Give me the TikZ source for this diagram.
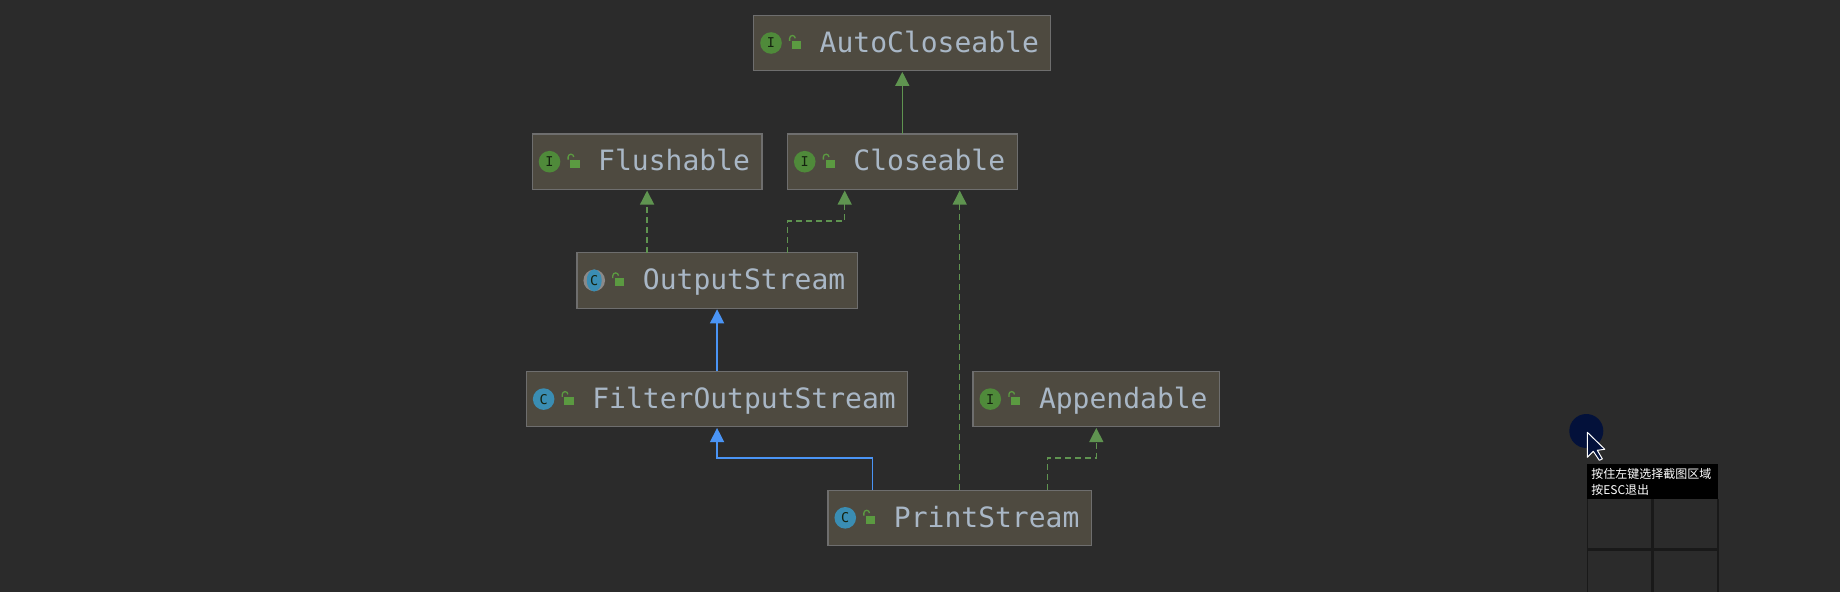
\documentclass[tikz,border=0pt]{standalone}
\usepackage{fontspec}
\setmonofont{DejaVu Sans Mono}
\newfontfamily\cjk{Noto Sans CJK SC}
\usepackage{tikz}
\usetikzlibrary{shapes.geometric, arrows.meta, positioning}

\definecolor{canvas}{HTML}{2B2B2B}
\definecolor{boxfill}{HTML}{4E4A40}
\definecolor{boxline}{HTML}{6E6E6E}
\definecolor{boxtext}{HTML}{A9B7C6}
\definecolor{implgreen}{HTML}{5F9450}
\definecolor{extblue}{HTML}{4A94F5}
\definecolor{ifacegreen}{HTML}{4F8A3A}
\definecolor{classblue}{HTML}{3A8DB3}
\definecolor{halogray}{HTML}{8A8A8A}
\definecolor{lockgreen}{HTML}{5B9A41}
\definecolor{spotblue}{HTML}{03113A}
\definecolor{gridline}{HTML}{191919}

\begin{document}
\begin{tikzpicture}[
    x=1bp, y=1bp,
    cls/.style={rectangle, draw=boxline, fill=boxfill, line width=1.2bp,
                outer sep=0bp, inner xsep=12bp, inner ysep=0bp,
                minimum height=55.4bp, text=boxtext,
                text height=24.5bp, text depth=6bp,
                font=\ttfamily\fontsize{28bp}{28bp}\selectfont,
                execute at begin node={\hspace*{54bp}}},
    icon/.style={circle, inner sep=0bp, outer sep=0bp, minimum size=21.6bp,
                 text=black!75!ifacegreen,
                 font=\ttfamily\fontsize{13.5bp}{13.5bp}\selectfont},
    lockbody/.style={rectangle, fill=lockgreen, inner sep=0bp, outer sep=0bp,
                     minimum width=9.3bp, minimum height=8bp},
    lockarc/.style={draw=lockgreen, line width=1.3bp},
    arr/.style={-{Triangle[length=14bp, width=14bp]}, line width=1.3bp, shorten >=1.2bp},
    impl/.style={arr, draw=implgreen},
    dep/.style={impl, dash pattern=on 6bp off 4bp},
    ext/.style={arr, draw=extblue},
    hint/.style={rectangle, fill=black, text=white, inner sep=4bp, outer sep=0bp,
                 minimum width=130.4bp, minimum height=35.3bp, text width=122.4bp,
                 align=left, font=\cjk\fontsize{12bp}{16bp}\selectfont},
    grid/.style={draw=gridline, line width=1.6bp}
  ]

  \useasboundingbox (0,0) rectangle (1840,-591.5);
  \fill[canvas] (-1,1) rectangle (1841,-593);

  \node[cls] (auto) at (902.3,-43) {AutoCloseable};
  \node[cls, below=63.3bp of auto] (close) {Closeable};
  \node[cls, left=25.5bp of close] (flush) {Flushable};
  \node[cls, below=63.3bp of flush, xshift=70bp] (output) {OutputStream};
  \node[cls, below=63.3bp of output] (filter) {FilterOutputStream};
  \node[cls, right=65.2bp of filter] (append) {Appendable};
  \node[cls, below=63.3bp of filter, xshift=242.6bp] (print) {PrintStream};

  \foreach \nm/\ltr/\col in {auto/I/ifacegreen, close/I/ifacegreen, flush/I/ifacegreen,
                             output//halogray, filter/C/classblue,
                             append/I/ifacegreen, print/C/classblue} {
    \node[icon, fill=\col, right=6.5bp of \nm.west] (\nm-icon) {\ltr};
    \node[lockbody, right=10bp of \nm-icon, yshift=-1.8bp] (\nm-lock) {};
    \draw[lockarc] ([xshift=-2.2bp]\nm-lock.north west) -- ++(0,2.5)
      arc[start angle=180, end angle=0, radius=2.8];
  }
  \node[icon, ellipse, minimum width=15bp, minimum height=22bp, fill=classblue]
    at (output-icon) {C};

  \draw[impl] (close.north) -- (auto.south);
  \draw[dep] (output.north -| flush.south) -- (flush.south);
  \draw[dep] ([xshift=70.7bp]output.north) -- ++(0,31.7) -| ([xshift=-57.6bp]close.south);
  \draw[dep] (print.north) -- (print.north |- close.south);
  \draw[ext] (filter.north) -- (output.south);
  \draw[ext] ([xshift=-87.4bp]print.north) -- ++(0,32) -| (filter.south);
  \draw[dep] ([xshift=87.5bp]print.north) -- ++(0,32) -| (append.south);

  % screenshot overlay
  \node[circle, fill=spotblue, minimum size=34bp, inner sep=0bp] (spot) at (1586.3,-431) {};
  \coordinate (tip) at (1587.3,-432.3);
  \draw[white, fill=spotblue, line width=1bp, line join=round] (tip) -- ++(0,-25) -- ++(6,6)
    -- ++(6,-9) -- ++(3,1.5) -- ++(-5,8.5) -- ++(7.5,1) -- cycle;

  \node[hint] (tool) at (1652.5,-481.7) {按住左键选择截图区域\\按ESC退出};
  \coordinate (bottom) at (0,-593);
  \draw[grid] (tool.south west) -- (tool.south west |- bottom);
  \draw[grid] (tool.south east) -- (tool.south east |- bottom);
  \draw[grid, line width=2.8bp] (tool.south) -- (tool.south |- bottom);
  \draw[grid, line width=2.8bp] ([yshift=-50bp]tool.south west) -- ([yshift=-50bp]tool.south east);

\end{tikzpicture}
\end{document}
